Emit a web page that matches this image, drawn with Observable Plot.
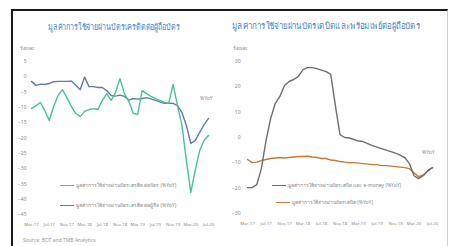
<!DOCTYPE html>
<html><head><meta charset="utf-8">
<script src="https://cdn.jsdelivr.net/npm/d3@7"></script>
<script src="https://cdn.jsdelivr.net/npm/@observablehq/plot@0.6"></script>
<style>
body{margin:0;background:#fff;font-family:"Noto Sans","DejaVu Sans",sans-serif}
#wrap{position:relative;width:450px;height:246px;overflow:hidden;background:#fff}
.frame{position:absolute;left:11px;top:9px;width:437px;height:240px;border-top:2px solid #1a1a1a;border-left:2px solid #1a1a1a;border-right:1px solid #cfcfcf;box-sizing:border-box}
.abs{position:absolute;white-space:nowrap;line-height:1}
.title{color:#4b86c6;font-size:9px;transform-origin:0 0}
.unit{font-size:5px;color:#888}
.leg{font-size:5px;color:#888;display:flex;align-items:center}
.leg i{display:inline-block;width:14px;height:1.5px;margin-right:2px}
.src{font-size:5px;color:#999}
svg{position:absolute}
</style></head>
<body><div id="wrap"><div class="frame"></div></div>
<script>
// ---- data ----
const monthLabels = ["Mar-17","Jul-17","Nov-17","Mar-18","Jul-18","Nov-18","Mar-19","Jul-19","Nov-19","Mar-20","Jul-20"];
const leftYTicks = [5,0,-5,-10,-15,-20,-25,-30,-35,-40,-45];
const rightYTicks = [30,20,10,0,-10,-20,-30];
// left panel series (%YoY)
const creditCard = [-10.4,-9.4,-8.4,-11.0,-14.3,-9.7,-6.1,-4.2,-6.8,-9.7,-12.0,-13.0,-11.3,-10.7,-10.4,-10.7,-7.7,-5.5,-7.7,-5.1,-0.6,-5.5,-8.1,-12.0,-12.3,-4.5,-5.5,-6.4,-7.1,-7.7,-8.4,-8.7,-2.5,-9.4,-15.9,-27.4,-37.8,-30.6,-24.1,-20.8,-19.2];
const creditCard2 = [-1.5,-2.8,-2.4,-2.5,-2.2,-1.6,-1.5,-1.5,-1.5,-1.4,-2.8,-4.2,-0.1,-3.2,-3.2,-3.5,-3.5,-4.5,-6.1,-6.3,-6.0,-6.4,-7.6,-7.1,-7.3,-7.1,-6.8,-7.2,-7.7,-8.2,-8.7,-8.6,-8.7,-9.4,-11.7,-15.9,-21.8,-20.8,-18.2,-15.6,-13.6];
// right panel series (%YoY)
const debitEmoney = [-19.8,-19.8,-18.6,-12.3,-1.2,7.5,13.4,16.2,20.5,22.1,22.9,24.1,26.8,27.6,27.6,27.2,26.6,26.0,24.9,12.6,1.1,0.0,-0.2,-0.8,-1.4,-1.6,-2.4,-3.2,-3.8,-4.4,-5.0,-5.6,-6.2,-7.0,-7.9,-10.3,-15.1,-16.2,-15.1,-13.1,-11.9];
const debitCard = [-8.7,-9.9,-9.7,-9.1,-8.7,-8.3,-8.1,-7.9,-8.1,-7.9,-7.7,-7.5,-7.5,-7.4,-7.7,-7.9,-8.3,-8.3,-8.9,-9.1,-9.5,-9.7,-9.9,-9.9,-10.1,-10.3,-10.5,-10.7,-10.7,-11.1,-11.1,-11.3,-11.5,-11.7,-11.9,-12.3,-13.9,-15.5,-14.8,-13.1,-11.9];

const leftTitle = "มูลค่าการใช้จ่ายผ่านบัตรเครดิตต่อผู้ถือบัตร";
const rightTitle = "มูลค่าการใช้จ่ายผ่านบัตรเดบิตและพร้อมเพย์ต่อผู้ถือบัตร";
const leftLegend = ["มูลค่าการใช้จ่ายผ่านบัตรเครดิต ต่อบัตร (%YoY)","มูลค่าการใช้จ่ายผ่านบัตรเครดิต ต่อผู้ถือ (%YoY)"];
const rightLegend = ["มูลค่าการใช้จ่ายผ่านบัตรเดบิต และ e-money (%YoY)","มูลค่าการใช้จ่ายผ่านบัตรเดบิต (%YoY)"];
const unitLabel = "ร้อยละ";
const source = "Source: BOT and TMB Analytics";

const cTeal = "#45c29c", cBlue = "#6479a9", cGray = "#6f6f6f", cBrown = "#c4783c";
const font = '"Noto Sans","DejaVu Sans",sans-serif';
const tickIdx = monthLabels.map((d,i)=>i*4);
const wrap = document.getElementById("wrap");

function panel(opts){
  const p = Plot.plot({
    width: opts.width, height:195,
    marginLeft: opts.ml, marginRight: opts.mr, marginTop:21, marginBottom: opts.mb,
    style:{fontSize:"5px", color:"#8a8a8a", fontFamily:font, background:"transparent"},
    x:{domain:[0,40], ticks:tickIdx, tickFormat:i=>monthLabels[i/4], tickSize:0, tickPadding:8, label:null},
    y:{domain:opts.ydom, ticks:opts.yticks, tickSize:0, tickPadding:opts.tp, label:null},
    marks: opts.series.map(s=>Plot.lineY(s.data,{x:(d,i)=>i, y:d=>d, stroke:s.color, strokeWidth:1.4}))
  });
  p.style.left = opts.left+"px"; p.style.top = "40px";
  p.querySelectorAll('[aria-label="x-axis tick label"] text').forEach(t=>t.setAttribute("font-size","4.3"));
  wrap.appendChild(p);
}
panel({left:12, width:215, ml:19, mr:19, mb:21, ydom:[-45,5], yticks:leftYTicks, tp:5,
  series:[{data:creditCard2,color:cBlue},{data:creditCard,color:cTeal}]});
panel({left:225, width:225, ml:22, mr:18, mb:22, ydom:[-30,30], yticks:rightYTicks, tp:7,
  series:[{data:debitCard,color:cBrown},{data:debitEmoney,color:cGray}]});

function txt(cls, s, x, y){
  const d = document.createElement("div"); d.className = "abs "+cls; d.textContent = s;
  d.style.left = x+"px"; d.style.top = y+"px"; wrap.appendChild(d); return d;
}
function fitW(d, w){ const cur = d.getBoundingClientRect().width; d.style.transform = `scaleX(${w/cur})`; }
function leg(s, color, x, y){
  const d = document.createElement("div"); d.className = "abs leg";
  d.style.left = x+"px"; d.style.top = y+"px";
  const i = document.createElement("i"); i.style.background = color; d.appendChild(i);
  d.appendChild(document.createTextNode(s)); wrap.appendChild(d);
}
fitW(txt("title", leftTitle, 48, 22), 132);
fitW(txt("title", rightTitle, 232, 21), 188);
txt("unit", unitLabel, 20, 46);
txt("unit", unitLabel, 233, 46);
txt("unit", "%YoY", 200, 96);
txt("unit", "%YoY", 422, 150);
leg(leftLegend[0], cTeal, 60, 183);
leg(leftLegend[1], cBlue, 60, 203);
leg(rightLegend[0], cGray, 272, 183);
leg(rightLegend[1], cBrown, 276, 200);
txt("src", source, 23, 238);
</script></body></html>
